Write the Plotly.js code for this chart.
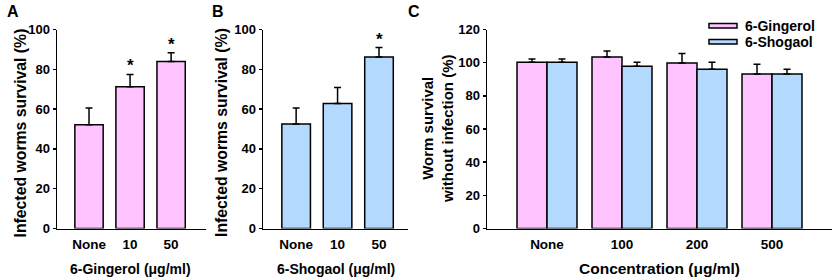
<!DOCTYPE html>
<html><head><meta charset="utf-8">
<script src="https://cdn.plot.ly/plotly-3.0.1.min.js"></script>
<style>html,body{margin:0;padding:0;background:#fff}</style>
</head><body><div id="chart" style="width:836px;height:280px"></div>
<script>
// ---- data ----
const catsAB = ['None', '10', '50'];
const gingerolA = [52.1, 71.2, 83.9];
const gingerolAErr = [8.5, 6.2, 4.4];
const sigA = [false, true, true];

const shogaolB = [52.5, 62.8, 86.2];
const shogaolBErr = [8.1, 8.1, 4.7];
const sigB = [false, false, true];

const catsC = ['None', '100', '200', '500'];
const gingerolC = [100.2, 103.4, 99.8, 93.1];
const gingerolCErr = [2.0, 3.7, 5.7, 5.9];
const shogaolC = [100.2, 97.8, 96.0, 93.1];
const shogaolCErr = [2.0, 2.4, 4.2, 2.9];

const seriesNames = ['6-Gingerol', '6-Shogaol'];

// ---- style ----
const PINK = '#FFC4FF', BLUE = '#B3D9FF';
const FONT = 'Arial, "Liberation Sans", sans-serif';
const W = 836, H = 280;
const px = v => v / W, py = v => 1 - v / H;
const zeros = a => a.map(() => 0);

function errY(arr) {
  return {type: 'data', array: arr, arrayminus: zeros(arr), symmetric: false,
          color: '#000', thickness: 1.5, width: 3.5};
}
function barTrace(x, y, err, color, xa, ya, name, width) {
  const t = {type: 'bar', x: x, y: y, name: name, xaxis: xa, yaxis: ya,
    marker: {color: color, line: {color: '#000', width: 1.5}},
    error_y: errY(err), showlegend: false, hoverinfo: 'x+y'};
  if (width) t.width = width;
  return t;
}

const data = [
  barTrace(catsAB, gingerolA, gingerolAErr, PINK, 'x', 'y', seriesNames[0], 0.69),
  barTrace(catsAB, shogaolB, shogaolBErr, BLUE, 'x2', 'y2', seriesNames[1], 0.69),
  barTrace(catsC, gingerolC, gingerolCErr, PINK, 'x3', 'y3', seriesNames[0]),
  barTrace(catsC, shogaolC, shogaolCErr, BLUE, 'x3', 'y3', seriesNames[1])
];

const yDom = [py(228.5), py(29.5)];
function xAxis(dom, range) {
  return {domain: dom, range: range, type: 'category', showline: true, linecolor: '#000',
    linewidth: 1.5, ticks: 'outside', ticklen: 3, tickcolor: 'rgba(0,0,0,0)',
    tickfont: {family: FONT, size: 13.5, color: '#000', weight: 'bold'},
    showgrid: false, zeroline: false, fixedrange: true};
}
function yAxis(range, anchor) {
  return {domain: yDom, range: range, dtick: 20, tick0: 0, anchor: anchor,
    showline: true, linecolor: '#000', linewidth: 1.5, ticks: 'outside', ticklen: 3,
    tickwidth: 1.5, tickcolor: '#000',
    tickfont: {family: FONT, size: 13, color: '#000', weight: 'bold'},
    showgrid: false, zeroline: false, fixedrange: true};
}

const annotations = [];
function stars(cats, vals, errs, sig, xa, ya) {
  cats.forEach((c, i) => {
    if (sig[i]) annotations.push({xref: xa, yref: ya, x: i, y: vals[i] + errs[i], text: '*',
      showarrow: false, yanchor: 'bottom', yshift: -3,
      font: {family: FONT, size: 17, color: '#000', weight: 'bold'}});
  });
}
stars(catsAB, gingerolA, gingerolAErr, sigA, 'x', 'y');
stars(catsAB, shogaolB, shogaolBErr, sigB, 'x2', 'y2');

function label(text, x, y, size, angle) {
  annotations.push({xref: 'paper', yref: 'paper', x: px(x), y: py(y), xanchor: 'center',
    yanchor: 'middle', text: text, showarrow: false, textangle: angle || 0,
    font: {family: FONT, size: size, color: '#000', weight: 'bold'}});
}
// axis titles
label('Infected worms survival (%)', 20, 133.5, 15.8, -90);
label('6-Gingerol (μg/ml)', 130.5, 268.5, 14);
label('Infected worms survival (%)', 221, 133, 15.8, -90);
label('6-Shogaol (μg/ml)', 336, 268.5, 14);
label('Worm survival<br>without infection (%)', 437.5, 129.5, 15, -90);
label('Concentration (μg/ml)', 659, 268.5, 15.5);

[['A', 5], ['B', 210], ['C', 406]].forEach(([t, x]) => annotations.push({
  xref: 'paper', yref: 'paper', x: px(x), y: py(12), xanchor: 'left', yanchor: 'middle',
  text: t, showarrow: false, font: {family: FONT, size: 16, color: '#000', weight: 'bold'}}));

// custom legend (flat swatches as in the reference)
const shapes = [];
[[PINK, 25.7], [BLUE, 41.7]].forEach(([col, yc], i) => {
  shapes.push({type: 'rect', xref: 'paper', yref: 'paper', x0: px(709), x1: px(737),
    y0: py(yc + 2.3), y1: py(yc - 2.3), fillcolor: col, line: {color: '#000', width: 1.5}});
  annotations.push({xref: 'paper', yref: 'paper', x: px(743), y: py(yc), xanchor: 'left',
    yanchor: 'middle', text: seriesNames[i], showarrow: false,
    font: {family: FONT, size: 14, color: '#000', weight: 'bold'}});
});

const layout = {
  width: W, height: H, margin: {l: 0, r: 0, t: 0, b: 0},
  paper_bgcolor: '#fff', plot_bgcolor: 'rgba(0,0,0,0)',
  font: {family: FONT, color: '#000'},
  barmode: 'group', bargap: 0.2, bargroupgap: 0,
  showlegend: false,
  xaxis: Object.assign(xAxis([px(57), px(206)], [-0.78, 2.85]), {anchor: 'y'}),
  yaxis: yAxis([0, 100], 'x'),
  xaxis2: Object.assign(xAxis([px(263), px(408)], [-0.8, 2.7]), {anchor: 'y2'}),
  yaxis2: yAxis([0, 100], 'x2'),
  xaxis3: Object.assign(xAxis([px(487), px(832)], [-0.8, 3.8]), {anchor: 'y3'}),
  yaxis3: yAxis([0, 120], 'x3'),
  annotations: annotations, shapes: shapes
};

Plotly.newPlot('chart', data, layout, {displayModeBar: false, staticPlot: true});
</script></body></html>
